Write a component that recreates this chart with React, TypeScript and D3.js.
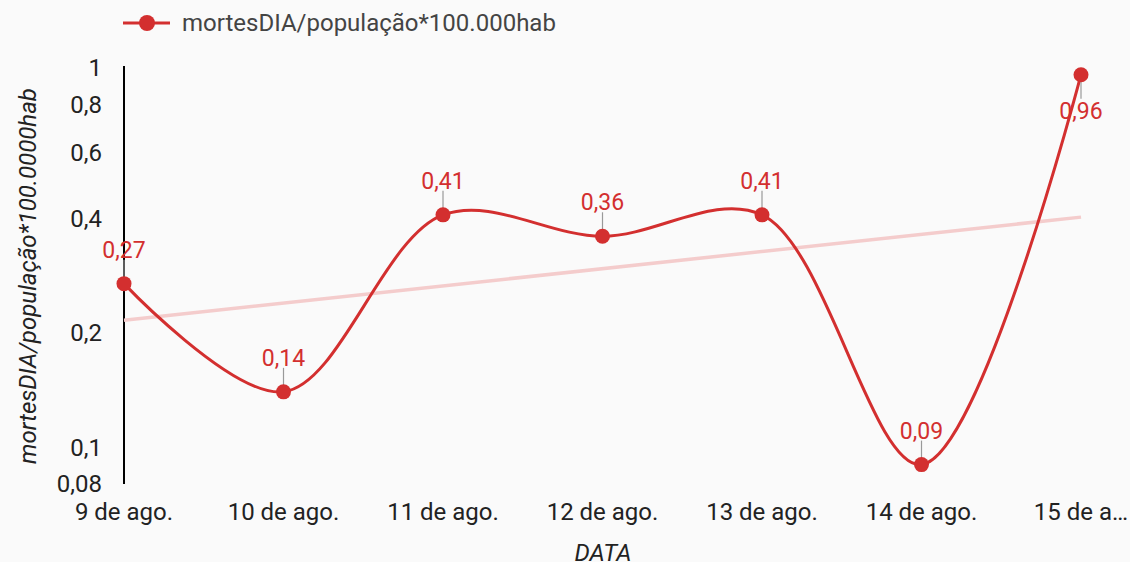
import React from "react";
import * as d3 from "d3";

const dates = ["9 de ago.", "10 de ago.", "11 de ago.", "12 de ago.", "13 de ago.", "14 de ago.", "15 de a…"];
const mortes = [0.27, 0.14, 0.41, 0.36, 0.41, 0.09, 0.96];
const yTicks = [0.08, 0.1, 0.2, 0.4, 0.6, 0.8, 1];
const labelBelow = [false, false, false, false, false, false, true];
const seriesName = "mortesDIA/população*100.000hab";

const W = 1130;
const H = 562;
const RED = "#d32f2f";
const FONT = "Roboto, sans-serif";

const fmt = (v: number) => String(v).replace(".", ",");

// exponential trendline (least squares on ln y)
function expTrend(vals: number[]) {
  const n = vals.length;
  const xs = vals.map((_, i) => i);
  const ls = vals.map((v) => Math.log(v));
  const mx = d3.mean(xs)!;
  const my = d3.mean(ls)!;
  const b = d3.sum(xs, (x, i) => (x - mx) * (ls[i] - my)) / d3.sum(xs, (x) => (x - mx) ** 2);
  const a = my - b * mx;
  return [0, n - 1].map((x) => ({ i: x, v: Math.exp(a + b * x) }));
}

export default function App() {
  const x = d3.scalePoint<string>().domain(dates).range([124, 1081]);
  const y = d3.scaleLog().domain([0.08, 1]).range([484, 68]);

  const pts = mortes.map((v, i) => ({ px: x(dates[i])!, py: y(v), v, i }));
  const line = d3
    .line<{ px: number; py: number }>()
    .x((d) => d.px)
    .y((d) => d.py)
    .curve(d3.curveCatmullRom.alpha(0.5));

  const trend = expTrend(mortes);

  return (
    <svg width={W} height={H} style={{ position: "absolute", left: 0, top: 0 }} fontFamily={FONT}>
      <rect width={W} height={H} fill="#fafafa" />

      {/* legend */}
      <g>
        <line x1={123} x2={170} y1={23} y2={23} stroke={RED} strokeWidth={3} />
        <circle cx={147} cy={23} r={8} fill={RED} />
        <text x={182} y={23} dy="0.35em" fontSize={24} fill="#444">
          {seriesName}
        </text>
      </g>

      {/* y axis */}
      <line x1={124} x2={124} y1={66} y2={484} stroke="#000" strokeWidth={2} />
      {yTicks.map((t) => (
        <text key={t} x={102} y={y(t)} dy="0.35em" textAnchor="end" fontSize={24} fill="#222">
          {fmt(t)}
        </text>
      ))}
      <text
        transform={`translate(28,276) rotate(-90)`}
        textAnchor="middle"
        dy="0.35em"
        fontSize={24}
        fontStyle="italic"
        fill="#222"
      >
        {"mortesDIA/população*100.0000hab"}
      </text>

      {/* x axis labels */}
      {dates.map((d) => (
        <text key={d} x={x(d)} y={512} dy="0.35em" textAnchor="middle" fontSize={24} fill="#222">
          {d}
        </text>
      ))}
      <text x={603} y={553} dy="0.35em" textAnchor="middle" fontSize={24} fontStyle="italic" fill="#222">
        DATA
      </text>

      {/* trendline */}
      <line
        x1={x(dates[trend[0].i])}
        y1={y(trend[0].v)}
        x2={x(dates[trend[1].i])}
        y2={y(trend[1].v)}
        stroke="#f4cccc"
        strokeWidth={3.5}
      />

      {/* series */}
      <path d={line(pts)!} fill="none" stroke={RED} strokeWidth={3} />
      {pts.map((p) => {
        const below = labelBelow[p.i];
        return (
          <g key={p.i}>
            <line
              x1={p.px}
              x2={p.px}
              y1={below ? p.py + 4 : p.py - 4}
              y2={below ? p.py + 24 : p.py - 24}
              stroke="#999"
              strokeWidth={1.2}
            />
            <circle cx={p.px} cy={p.py} r={7.5} fill={RED} />
            <text
              x={p.px}
              y={below ? p.py + 36 : p.py - 34}
              dy="0.35em"
              textAnchor="middle"
              fontSize={23}
              fill={RED}
            >
              {fmt(p.v)}
            </text>
          </g>
        );
      })}
    </svg>
  );
}
